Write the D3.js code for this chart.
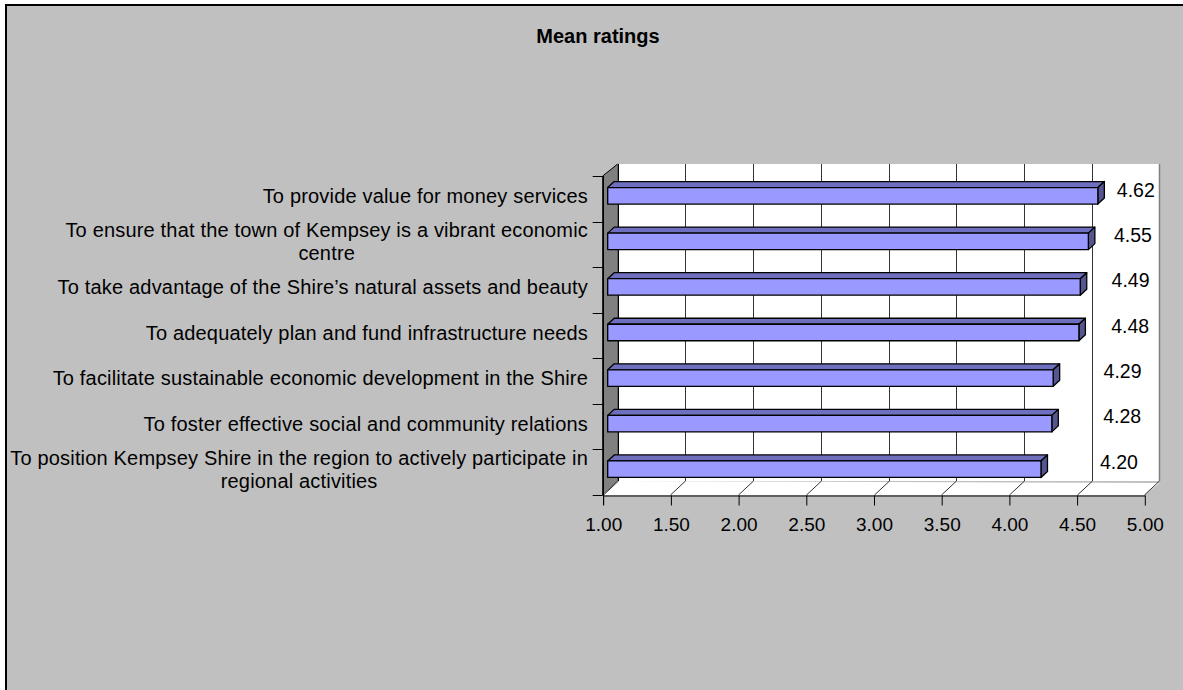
<!DOCTYPE html>
<html>
<head>
<meta charset="utf-8">
<script src="https://cdn.jsdelivr.net/npm/d3@7"></script>
<style>
  html, body { margin: 0; padding: 0; background: #ffffff; overflow: hidden; }
  svg { display: block; }
  text { font-family: "Liberation Sans", Arial, sans-serif; fill: #000; }
</style>
</head>
<body>
<svg id="chart" width="1300" height="720"></svg>
<script>
// ---- data ----
const chartTitle = "Mean ratings";
const categories = [
  "To provide value for money services",
  "To ensure that the town of Kempsey is a vibrant economic\ncentre",
  "To take advantage of the Shire\u2019s natural assets and beauty",
  "To adequately plan and fund infrastructure needs",
  "To facilitate sustainable economic development in the Shire",
  "To foster effective social and community relations",
  "To position Kempsey Shire in the region to actively participate in\nregional activities"
];
const values = [4.62, 4.55, 4.49, 4.48, 4.29, 4.28, 4.20];
const xTicks = [1.00, 1.50, 2.00, 2.50, 3.00, 3.50, 4.00, 4.50, 5.00];
const xDomain = [1, 5];

// ---- layout ----
const svg = d3.select("#chart");
const depthDX = 15;
const front = { left: 602.7, right: 1144.3, top: 176, bottom: 495 };
const back = { left: front.left + depthDX, right: front.right + depthDX, top: 164, bottom: 481 };

const xFront = d3.scaleLinear().domain(xDomain).range([front.left, front.right]);
const xBack = d3.scaleLinear().domain(xDomain).range([back.left, back.right]);
const yFront = d3.scaleBand().domain(categories).range([front.top, front.bottom]).padding(0);
const yBack = d3.scaleBand().domain(categories).range([back.top, back.bottom]).padding(0);

// outer frame (right and bottom edges fall outside the view)
svg.append("rect").attr("x", 6).attr("y", 5).attr("width", 1400).attr("height", 900)
  .attr("fill", "#c0c0c0").attr("stroke", "#000").attr("stroke-width", 2);

// title
svg.append("text").attr("x", 598).attr("y", 42.5).attr("text-anchor", "middle")
  .attr("font-size", "20px").attr("font-weight", "bold").text(chartTitle);

// left side wall
svg.append("polygon")
  .attr("points", [[front.left, front.top], [back.left, back.top], [back.left, back.bottom], [front.left, front.bottom]].map(p => p.join(",")).join(" "))
  .attr("fill", "#808080").attr("stroke", "#000").attr("stroke-width", 1);

// back wall
svg.append("rect").attr("x", back.left).attr("y", back.top)
  .attr("width", back.right - back.left).attr("height", back.bottom - back.top)
  .attr("fill", "#fff");
// floor
svg.append("polygon")
  .attr("points", [[front.left, front.bottom], [front.right, front.bottom], [back.right, back.bottom + 2], [back.left, back.bottom]].map(p => p.join(",")).join(" "))
  .attr("fill", "#fff");

// back wall gridlines + floor diagonals
const grid = svg.append("g").attr("stroke", "#333").attr("stroke-width", 1).attr("fill", "none");
xTicks.forEach(t => {
  const xb = Math.round(xBack(t)) + 0.5, xf = Math.round(xFront(t)) + 0.5;
  grid.append("line").attr("x1", xb).attr("x2", xb).attr("y1", back.top).attr("y2", back.bottom);
  grid.append("line").attr("x1", xb).attr("y1", back.bottom).attr("x2", xf).attr("y2", front.bottom);
});
// back wall right edge in grey
svg.append("line").attr("x1", Math.round(back.right) + 0.5).attr("x2", Math.round(back.right) + 0.5)
  .attr("y1", back.top).attr("y2", back.bottom).attr("stroke", "#808080").attr("stroke-width", 1.5);

// left wall back edge redrawn on top
svg.append("line").attr("x1", Math.round(back.left) + 0.5).attr("x2", Math.round(back.left) + 0.5)
  .attr("y1", back.top).attr("y2", back.bottom).attr("stroke", "#000");

// x axis (front)
const xAxis = d3.axisBottom(xFront).tickValues(xTicks).tickFormat(d3.format(".2f"))
  .tickSizeInner(10).tickSizeOuter(0);
const gx = svg.append("g").attr("transform", `translate(0.5,${front.bottom + 0.5})`).call(xAxis);
gx.select(".domain").attr("stroke", "#000");
gx.selectAll(".tick line").attr("stroke", "#000");
gx.selectAll(".tick text").attr("y", 35).attr("dy", 0)
  .attr("font-size", "19px").attr("font-family", "Liberation Sans, Arial, sans-serif").attr("fill", "#000");

// y axis (front left edge) with ticks at band boundaries
const yb = categories.map(c => yFront(c)).concat([front.bottom]);
const gy = svg.append("g").attr("stroke", "#000").attr("stroke-width", 1);
gy.append("line").attr("x1", Math.round(front.left) + 0.5).attr("x2", Math.round(front.left) + 0.5)
  .attr("y1", front.top).attr("y2", front.bottom + 10);
yb.forEach(y => {
  gy.append("line").attr("x1", front.left - 10).attr("x2", front.left)
    .attr("y1", Math.round(y) + 0.5).attr("y2", Math.round(y) + 0.5);
});

// bars (3D)
const barHalf = 8.25, barShift = -3, barDX = 5, topDX = 6.5, topDY = -6;
const bars = svg.append("g").attr("stroke", "#000").attr("stroke-width", 1.3).attr("stroke-linejoin", "round");
categories.forEach((c, i) => {
  const cy = yFront(c) + yFront.bandwidth() / 2 + barShift;
  const y0 = cy - barHalf, y1 = cy + barHalf;
  const x0 = xFront(xDomain[0]) + barDX, x1 = xFront(values[i]) + barDX;
  const pts = a => a.map(p => p.join(",")).join(" ");
  bars.append("polygon").attr("fill", "#6f6fc0")
    .attr("points", pts([[x0, y0], [x1, y0], [x1 + topDX, y0 + topDY], [x0 + topDX, y0 + topDY]]));
  bars.append("polygon").attr("fill", "#55558f")
    .attr("points", pts([[x1, y0], [x1 + topDX, y0 + topDY], [x1 + topDX, y1 + topDY], [x1, y1]]));
  bars.append("rect").attr("fill", "#9999ff")
    .attr("x", x0).attr("y", y0).attr("width", x1 - x0).attr("height", y1 - y0);
});

// value labels
const vl = svg.append("g");
categories.forEach((c, i) => {
  const cy = yBack(c) + yBack.bandwidth() / 2 + 3.5;
  const xl = 794.4 + 0.295 * xFront(values[i]);
  vl.append("text").attr("x", xl).attr("y", cy + 6.7).attr("font-size", "19.5px")
    .text(d3.format(".2f")(values[i]));
});

// category labels (right-aligned block, lines centred within block)
const labelRight = 588, lineH = 23;
const cl = svg.append("g");
categories.forEach(c => {
  const lines = c.split("\n");
  const cy = yFront(c) + yFront.bandwidth() / 2 + barShift;
  const t = cl.append("text").attr("font-size", "20px").attr("letter-spacing", "0.18px")
    .attr("text-anchor", "middle");
  const firstBase = cy + 7.15 - (lines.length - 1) * lineH / 2;
  const spans = lines.map((ln, k) => t.append("tspan").attr("y", firstBase + k * lineH).text(ln));
  const maxW = d3.max(spans, s => s.node().getComputedTextLength());
  spans.forEach(s => s.attr("x", labelRight - maxW / 2));
});
</script>
</body>
</html>
